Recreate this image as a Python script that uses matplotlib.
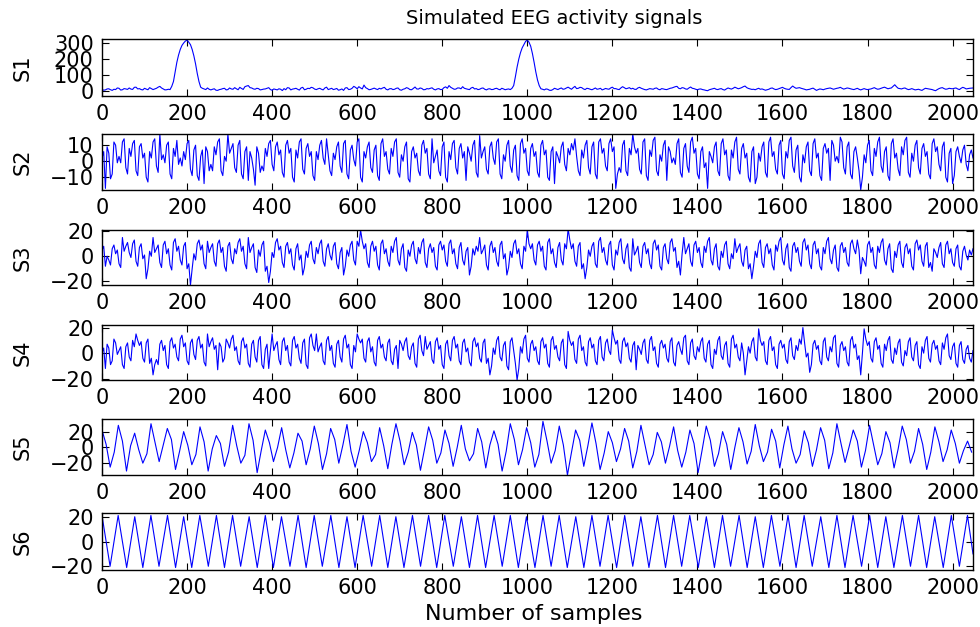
import numpy as np
import matplotlib
matplotlib.use("Agg")
import matplotlib.pyplot as plt

plt.rcParams["font.family"] = ["DejaVu Sans"]

# 1. Signal values
# main readings at samples 0, 8, 16, ... and in-between readings at 4, 12, 20, ...
samples = np.arange(0, 2049, 4)

s1 = [
    12, 8, 15, 5, 10, 18, 9, 14, 20, 11, 25, 16, 8, 13, 22, 10,
    18, 30, 14, 9, 10, 60, 180, 260, 300, 318, 290, 220, 110, 25, 14, 20,
    8, 15, 5, 12, 18, 10, 14, 22, 9, 17, 28, 35, 20, 12, 16, 10,
    14, 22, 6, 11, 15, 4, 9, 20, 13, 18, 7, 24, 12, 16, 21, 10,
    18, 8, 25, 14, 10, 17, 9, 5, 22, 12, 30, 15, 20, 38, 16, 11,
    19, 10, 14, 24, 8, 16, 12, 20, 6, 15, 18, 9, 26, 13, 17, 10,
    14, 21, 8, 16, 11, 27, 35, 18, 13, 20, 28, 15, 10, 24, 16, 12,
    20, 8, 15, 11, 18, 9, 14, 12, 10, 35, 150, 240, 290, 318, 280, 180,
    70, 15, 8, 12, 5, 18, 10, 20, 14, 25, 12, 30, 18, 22, 10, 16,
    9, 20, 14, 8, 17, 12, 25, 16, 10, 28, 15, 22, 18, 11, 24, 14,
    8, 16, 12, 20, 9, 14, 10, 18, 24, 30, 15, 20, 12, 26, 16, 9,
    14, 8, 3, 12, 18, 10, 16, 7, 20, 13, 25, 15, 22, 32, 17, 11,
    9, 18, 14, 6, 12, 20, 10, 16, 24, 14, 11, 32, 18, 22, 15, 8,
    12, 19, 5, 14, 9, 16, 20, 12, 18, 24, 13, 20, 15, 10, 18, 8,
    16, 10, 14, 22, 12, 18, 25, 15, 20, 40, 18, 14, 20, 10, 16, 8,
    12, 5, 18, 14, 10, 3, 16, 22, 12, 18, 15, 20, 10, 24, 14, 18,
    20,
]
s1_mid = [
    6, 14, 9, 12, 20, 7, 16, 11, 13, 24, 14, 10, 18, 9, 16, 14,
    25, 20, 8, 12, 30, 120, 225, 285, 312, 305, 260, 170, 60, 18, 10, 12,
    12, 6, 10, 16, 8, 20, 12, 15, 24, 11, 32, 22, 14, 18, 8, 13,
    18, 10, 14, 8, 12, 16, 22, 8, 15, 12, 20, 9, 18, 24, 13, 15,
    12, 20, 10, 18, 13, 6, 14, 20, 10, 18, 24, 28, 14, 22, 9, 15,
    14, 18, 20, 12, 15, 10, 18, 9, 12, 22, 10, 17, 14, 20, 9, 16,
    18, 12, 14, 10, 22, 18, 24, 12, 20, 15, 18, 12, 20, 14, 10, 18,
    12, 14, 10, 16, 12, 18, 9, 14, 18, 90, 200, 270, 310, 305, 235, 120,
    35, 12, 14, 6, 10, 14, 16, 12, 20, 18, 22, 16, 24, 14, 18, 12,
    14, 12, 18, 12, 14, 20, 16, 12, 20, 22, 18, 14, 12, 20, 18, 10,
    12, 14, 18, 12, 16, 11, 14, 20, 28, 18, 22, 14, 20, 18, 12, 13,
    10, 5, 9, 15, 12, 14, 10, 14, 16, 18, 20, 18, 28, 22, 14, 12,
    14, 12, 10, 9, 18, 14, 12, 20, 18, 12, 22, 24, 20, 18, 12, 10,
    16, 12, 10, 12, 13, 18, 16, 15, 20, 18, 16, 18, 12, 14, 12, 12,
    12, 12, 18, 16, 14, 22, 20, 18, 30, 28, 16, 18, 14, 12, 12, 10,
    8, 12, 16, 12, 6, 10, 20, 16, 14, 16, 18, 14, 18, 20, 16, 19,
]

s2 = [
    2, -17, 5, -8, 10, 3, 12, -4, 8, 11, -6, 9, 2, -10, 6, 12,
    -3, 17, 4, 10, -8, 8, 13, 2, 6, 11, -5, 7, -9, 3, -14, 6,
    -2, 9, 12, -6, 3, 17, 8, -4, 10, -8, 6, -12, 2, -15, 5, -3,
    8, 11, -2, 9, 4, -7, 10, 5, -10, 7, 12, -5, 8, 3, -9, 6,
    10, 2, 14, -6, 5, 9, -3, 11, -8, 7, 1, 12, -10, 6, 9, -4,
    7, -9, 11, 3, -5, 8, 12, -7, 4, 9, -11, 6, 2, -6, 10, 5,
    -8, 14, 3, -6, 9, -10, 6, 11, -4, 8, 2, -12, 5, 10, -7, 16,
    6, -5, 9, 2, 12, -8, 4, 10, -3, 7, -9, 11, 5, -6, 8, 3,
    -7, 10, 4, -10, 6, -14, 3, 9, -2, 8, 11, 14, -6, 7, 10, -4,
    9, -8, 12, 5, -3, 11, 6, -17, -4, 10, -6, 8, 17, 5, -5, 12,
    -9, 7, 13, -6, 4, 10, -12, 6, 2, 11, -7, 8, -3, 12, 5, -8,
    6, -4, -17, 3, 9, -6, 11, 4, -9, 7, 12, -5, 8, 2, -10, 6,
    -14, 5, 9, -7, 12, 3, -5, 10, -8, 6, 13, -3, 7, -10, 4, 9,
    -6, 11, 2, -9, 8, 5, -12, 10, 3, 15, -4, 9, -8, 6, 2, -18,
    4, 10, -6, 8, 12, -3, 6, -9, 11, 2, -5, 9, 13, -7, 5, 10,
    -4, 8, 3, -8, 11, 6, -2, 9, -10, 5, -14, 6, 3, 7, -2, 4,
    2,
]
s2_mid = [
    6, 9, -11, 12, -1, -1, 14, -8, 3, 13, -9, 11, 5, -13, 2, 14,
    -7, 1, -1, 12, -11, 3, -2, -3, 1, 13, -9, 10, -12, 7, 9, -6,
    -6, 4, 14, -9, 0, 5, 11, -7, 13, -11, 9, 6, -5, 9, -7, -6,
    3, 13, -6, 12, 7, -10, 13, 8, -13, 2, 14, -8, 11, 6, -12, 1,
    13, -2, 4, -9, 1, 12, -7, 13, -11, 10, -3, 14, -13, 2, 12, -7,
    10, -12, 14, 6, -8, 3, 14, -10, 0, 12, -13, 9, 5, -9, 13, 8,
    -11, -1, 7, -9, 12, -13, 1, 13, -8, 11, 6, 9, 0, 13, -10, 2,
    9, -8, 12, -2, 14, -11, 0, 13, -7, 10, -12, 14, 8, -9, 11, 6,
    -10, 13, 7, -12, 9, 6, -1, 12, -6, 4, 7, 3, -9, 2, 13, -8,
    12, -11, 14, 8, -6, 14, 9, -8, -7, 13, -9, 4, 9, 8, -8, 14,
    -12, 3, 15, -9, 0, 13, 9, -1, -2, 14, -10, 11, -7, 15, 8, -11,
    9, -1, 6, -1, 12, -9, 14, 7, -12, 2, 15, -8, 11, 5, -13, 9,
    -10, 0, 12, -10, 15, 6, -8, 13, -11, 2, 15, -7, 10, -13, -1, 12,
    -9, 14, 5, -12, 11, 8, 13, 0, -1, 12, -8, 12, -11, 9, -6, -10,
    -1, 13, -9, 3, 15, -7, 9, -12, 14, 5, -9, 4, 15, -10, 0, 13,
    -8, 11, 6, -11, 14, 9, -6, 12, -13, 8, -9, 9, -1, 10, -6, 7,
]

s3 = [
    5, -8, -3, 6, 2, -6, 15, 8, 3, 10, -4, 7, -2, -18, 4, 15,
    6, -5, 9, 2, -7, 11, 4, -3, 8, -10, -23, 2, 10, 5, -6, 12,
    7, -4, 10, 3, -8, 8, -2, 6, 11, 4, -6, 15, 7, -9, 5, 9,
    -12, -21, 3, 11, 5, -5, 8, 2, -7, 6, -3, -15, 4, 9, -2, 7,
    10, -4, 6, 1, 8, -6, 3, -15, 5, 9, -3, 12, 21, 6, -5, 8,
    4, -7, 10, 2, -4, 8, 12, -3, 6, -9, 5, 9, -2, 7, 11, -5,
    6, 3, -8, 9, 5, -4, 10, 2, -6, 7, -3, 4, -15, 6, 8, 15,
    5, -7, 8, 3, -4, 9, -2, -15, 4, 10, 2, -6, 8, 21, 6, -3,
    9, 4, -8, 11, 2, -5, 7, -3, 10, 22, 6, -4, 8, -10, -18, 5,
    8, -6, 12, 3, -3, 9, -7, 5, 11, -2, 6, -9, 14, 4, -5, 8,
    2, -6, 10, 5, -8, 7, -2, 11, 4, -9, -15, 15, 6, -4, 9, 3,
    -5, 8, 12, -3, 6, -8, 4, 9, -6, 2, 14, 7, -4, 5, -10, -18,
    4, 10, -5, 7, 2, -7, 9, 12, -3, 6, -9, 8, 3, -4, 11, 5,
    -6, 9, 2, -8, 7, 12, -2, 5, -9, 8, 3, -5, 10, 6, 13, -14,
    -4, 9, 3, -7, 8, 11, -3, 6, -10, 4, 9, -5, 7, 2, -8, 10,
    5, -4, 8, -9, -12, 3, 7, -6, 9, 2, -5, 6, -8, 4, 1, 5,
    6,
]
s3_mid = [
    8, 0, -7, 9, 5, -9, 4, 11, -1, 13, -8, 10, 1, -10, 0, 3,
    9, -9, 12, 6, -11, 14, 8, -7, 11, -6, -10, -3, 13, 9, -10, 3,
    10, -8, 13, 7, -12, 11, -6, 2, 14, 8, -10, 3, 10, -13, 0, 12,
    -8, -12, -1, 14, 8, -9, 11, 6, -11, 10, 1, -9, -1, 12, -6, 2,
    13, -8, 10, -3, 11, -10, 7, -8, 0, 12, -7, 8, 12, 10, -9, 12,
    8, -11, 13, 6, -8, 3, 15, -7, 10, -12, 0, 12, -6, 2, 14, -9,
    10, 7, -11, 12, 9, -8, 13, 6, -10, 11, -7, 7, -8, 1, 4, 2,
    9, -11, 12, 7, -8, 12, 2, -9, -1, 13, 6, -10, 4, 10, 10, -7,
    12, 8, -11, 14, 6, -9, 11, -7, 6, 13, 10, -8, 11, -6, -9, 0,
    11, -9, 15, 7, -7, 12, -11, 1, 14, -6, 10, -12, 1, 8, -9, 11,
    6, -10, 13, 9, -11, 10, -6, 14, 7, -4, 2, 2, 10, -8, 12, 7,
    -9, 3, 15, -7, 10, -11, -1, 12, -10, -2, 3, 10, -8, 8, -6, -8,
    -1, 13, -9, 10, 6, -11, 4, 15, -7, 10, -12, 11, 7, -8, 14, 9,
    -10, 12, 6, -11, 2, 15, -6, 9, -12, 11, 7, -8, 13, 2, 5, -1,
    -8, 12, 7, -10, 3, 14, -7, 10, -13, -1, 12, -9, 10, 6, -11, 13,
    9, -8, 11, -5, 6, -1, 11, -9, 12, 6, -8, 9, -11, 8, -3, 1,
]

s4 = [
    0, -12, 4, -6, 8, 2, -9, 5, -3, 10, 15, 6, -4, 8, -8, -17,
    -5, 7, 2, -9, 9, 4, -3, 11, 5, -6, 8, -1, 10, 4, -7, 15,
    9, 3, -13, 5, -4, 8, 11, 2, -6, 9, 4, -8, 7, -3, 10, -9,
    3, -12, 15, 6, -5, 9, 2, -7, 10, 4, -4, 8, -9, 12, 6, 15,
    5, -6, 10, 2, -8, 7, -3, 11, 4, -9, 6, 15, 8, -4, 9, 1,
    -7, 10, 4, -3, 8, -6, 3, -12, 7, 9, -2, 5, -8, 11, 2, 13,
    6, -5, 9, 3, -9, 7, -2, 10, 4, -6, 8, 1, -7, 9, 5, -4,
    8, -8, -17, 4, 10, -3, 6, -10, 9, 2, -21, 5, 11, -4, 7, 2,
    -6, 9, 4, -8, 10, 3, -3, 8, -9, 17, 6, -5, 11, 2, -7, 9,
    4, -6, 10, -3, 8, 2, 18, 7, -5, 9, 5, -4, 6, -13, 3, 8,
    -5, 10, 2, -8, 7, 4, -4, 9, -7, 6, 3, 12, -6, 8, -2, 5,
    9, -4, 7, -9, 3, 10, -2, 6, -8, 11, 4, -3, 8, -17, 5, 9,
    -3, 19, 6, -6, 10, 2, -9, 7, 4, -5, 9, -2, 6, 11, 20, -3,
    -15, 7, 3, -6, 9, -3, 5, 12, -8, 6, 2, -7, 10, 4, -5, -17,
    19, 6, -4, 9, 3, -8, 7, 10, -5, 4, 8, -7, 2, 9, -3, 6,
    -9, 5, 10, -4, 7, 3, -6, 8, 12, -2, 5, -8, 6, -5, 3, -4,
    2,
]
s4_mid = [
    4, 7, -9, 11, -1, 5, -12, 8, -6, 5, 10, 9, -7, 11, -4, -9,
    -9, 10, 6, -12, 12, 7, -6, 14, 8, -9, 11, -5, 13, 7, -10, 5,
    12, 6, 8, -7, 11, 4, 14, 5, -9, 12, 7, -11, 10, -7, 13, -12,
    7, 2, 2, 9, -9, 12, 6, -10, 13, 7, -8, 11, -12, 15, 2, 1,
    8, -9, 13, 6, -11, 10, -7, 14, 7, -12, 1, 11, 11, -7, 12, 5,
    -10, 13, 7, -6, 11, -9, 6, 10, 2, 12, -5, 8, -11, 14, -2, 3,
    9, -8, 12, 6, -12, 10, -6, 13, 7, -9, 11, 4, -10, 12, 8, -7,
    11, -4, -10, -1, 13, -6, 9, -13, 12, -8, -12, 0, 14, -7, 10, 5,
    -9, 12, 7, -11, 13, 6, -6, 11, -12, 10, 9, -8, 14, 5, -10, 12,
    7, -9, 13, -6, 11, -1, 12, 10, -8, 12, 8, -7, 9, 6, -1, 11,
    -8, 13, 5, -11, 10, 7, -7, 12, -10, 9, -1, 14, -9, 11, -5, 1,
    12, -7, 10, -12, -1, 13, -5, 9, -11, 14, 7, -6, 0, -6, 0, 12,
    -6, 10, 9, -9, 13, 5, -12, 10, 7, -8, 12, -5, 2, 7, 8, 0,
    -9, 10, 6, -9, 12, -6, 1, 14, -11, 9, 5, -10, 13, 7, -2, 0,
    11, 9, -7, 12, 6, -11, 2, 13, -8, -1, 11, -10, -2, 12, -6, 9,
    -12, 0, 13, -7, 10, 6, -9, 3, 15, -5, 8, -11, 9, -8, 6, -7,
]

# S5 read every ~9.6 samples (peak, middle, trough, middle per cycle)
s5_samples = np.arange(214) * 9.6
s5 = [
    22, 4, -25, -6, 28, 8, -30, 2, 18, -3, -20, -8, 30, 6, -18, 3,
    24, 10, -28, -5, 20, 3, -22, -9, 26, 7, -30, -2, 15, 5, -24, -6,
    28, 2, -20, -10, 30, 9, -32, -4, 22, 6, -18, 0, 25, -3, -26, -7,
    18, 8, -22, -2, 27, 5, -28, -8, 24, 10, -20, 3, 29, -5, -25, -4,
    20, 6, -18, -9, 25, 2, -27, 4, 30, 8, -22, -6, 19, 3, -29, -2,
    26, 9, -20, -7, 22, 5, -24, 0, 28, -2, -17, -8, 24, 7, -26, 3,
    21, 4, -30, -5, 30, 10, -22, -3, 25, 6, -25, -9, 33, 8, -20, -4,
    27, 3, -35, -6, 22, 9, -24, 2, 31, 5, -28, -7, 20, 6, -18, -2,
    24, 8, -26, -5, 28, 3, -22, -9, 19, 7, -20, 1, 26, -4, -25, -6,
    22, 5, -32, -3, 27, 9, -24, -8, 20, 4, -28, 0, 25, 7, -21, -5,
    29, 2, -18, -6, 23, 8, -26, 3, 27, -2, -20, -9, 21, 6, -24, -3,
    25, 9, -27, -7, 30, 5, -19, 1, 22, 8, -25, -4, 28, 3, -22, -8,
    20, 6, -26, -2, 27, 10, -20, -5, 24, 4, -28, -6, 26, 7, -18, -3,
    22, 5, -20, -4, 8, -6,
]

# S6: peaks and troughs of the sinusoid
s6_samples = [
    0, 19, 38, 58, 77, 96, 115, 134, 154, 173,
    192, 211, 230, 250, 269, 288, 307, 326, 346, 365,
    384, 403, 422, 442, 461, 480, 499, 518, 538, 557,
    576, 595, 614, 634, 653, 672, 691, 710, 730, 749,
    768, 787, 806, 826, 845, 864, 883, 902, 922, 941,
    960, 979, 998, 1018, 1037, 1056, 1075, 1094, 1114, 1133,
    1152, 1171, 1190, 1210, 1229, 1248, 1267, 1286, 1306, 1325,
    1344, 1363, 1382, 1402, 1421, 1440, 1459, 1478, 1498, 1517,
    1536, 1555, 1574, 1594, 1613, 1632, 1651, 1670, 1690, 1709,
    1728, 1747, 1766, 1786, 1805, 1824, 1843, 1862, 1882, 1901,
    1920, 1939, 1958, 1978, 1997, 2016, 2035, 2048,
]
s6 = [
    21, -20, 21, -21, 20, -21, 21, -20, 21, -21,
    20, -21, 21, -20, 21, -21, 21, -20, 20, -21,
    21, -21, 20, -20, 21, -21, 21, -20, 21, -21,
    20, -21, 21, -20, 21, -21, 20, -21, 21, -20,
    21, -21, 21, -20, 20, -21, 21, -21, 21, -20,
    21, -21, 20, -21, 21, -20, 21, -21, 20, -21,
    21, -20, 21, -21, 21, -20, 20, -21, 21, -21,
    21, -20, 21, -21, 20, -21, 21, -20, 21, -21,
    20, -21, 21, -20, 21, -21, 21, -20, 20, -21,
    21, -21, 21, -20, 21, -21, 20, -21, 21, -20,
    21, -21, 20, -21, 21, -20, 21, -10,
]


def merge(main, mid):
    # put the in-between readings back in sample order
    out = np.empty(len(main) + len(mid))
    out[0::2] = main
    out[1::2] = mid
    return out


names = ["S1", "S2", "S3", "S4", "S5", "S6"]
yticks = [[0, 100, 200, 300], [-10, 0, 10], [-20, 0, 20], [-20, 0, 20], [-20, 0, 20], [-20, 0, 20]]
ylims = [(-30, 325), (-18, 17), (-23, 21), (-21, 22), (-35, 36), (-23, 23)]
xs = [samples, samples, samples, samples, s5_samples, s6_samples]
ys = [merge(s1, s1_mid), merge(s2, s2_mid), merge(s3, s3_mid), merge(s4, s4_mid), s5, s6]

# 2. Figure and stacked axes (pixel rows)
fig = plt.figure(figsize=(9.8, 6.27), dpi=100)
rows = [(39, 96), (134, 190), (230, 285), (325, 380), (419, 475), (513, 570)]

for i in range(6):
    top, bot = rows[i]
    ax = fig.add_axes([102 / 980, 1 - bot / 627, 871 / 980, (bot - top) / 627])
    ax.plot(xs[i], ys[i], color="#0000ff", linewidth=0.8)
    ax.set_xlim(0, 2048)
    ax.set_ylim(*ylims[i])
    ax.set_xticks(range(0, 2001, 200))
    ax.set_yticks(yticks[i])
    ax.tick_params(direction="in", top=True, right=True, length=5, width=0.8,
                   labelsize=15, pad=6)
    for sp in ax.spines.values():
        sp.set_linewidth(1.0)
    ax.set_ylabel(names[i], fontsize=15)
    ax.yaxis.set_label_coords(-0.08, 0.5)

fig.text(554 / 980, 1 - 18 / 627, "Simulated EEG activity signals",
         ha="center", va="center", fontsize=14)
fig.text(534 / 980, 1 - 614 / 627, "Number of samples",
         ha="center", va="center", fontsize=16)

plt.savefig("out.png", dpi=100)
plt.close()
